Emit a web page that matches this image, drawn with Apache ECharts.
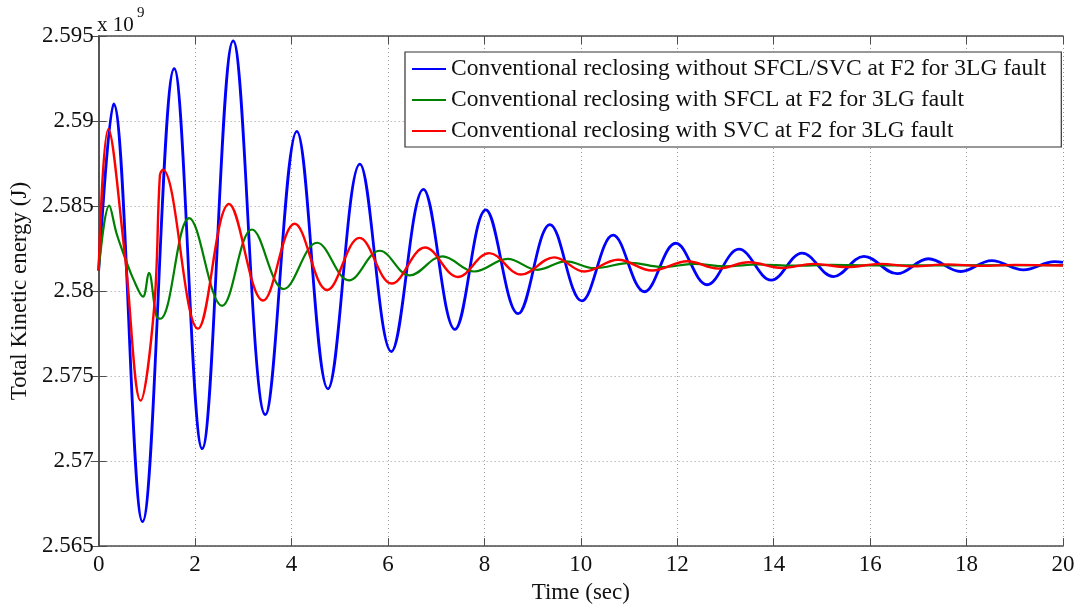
<!DOCTYPE html>
<html>
<head>
<meta charset="utf-8">
<script src="https://cdn.jsdelivr.net/npm/echarts@6/dist/echarts.min.js"></script>
<style>
html,body{margin:0;padding:0;background:#fff;overflow:hidden;}
#chart{width:1081px;height:609px;}
</style>
</head>
<body>
<div id="chart"></div>
<script>
// ---- data (values in units of 1e9 J) ----
const seriesNames = [
  'Conventional reclosing without SFCL/SVC at F2 for 3LG fault',
  'Conventional reclosing with SFCL at F2 for 3LG fault',
  'Conventional reclosing with SVC at F2 for 3LG fault'
];
const xTicks = [0, 2, 4, 6, 8, 10, 12, 14, 16, 18, 20];
const yTicks = [2.565, 2.57, 2.575, 2.58, 2.585, 2.59, 2.595];

const tBlue = [0, 0.31, 0.91, 1.567, 2.147, 2.79, 3.457, 4.11, 4.755, 5.417, 6.07, 6.735, 7.39, 8.03, 8.70, 9.36, 10.02, 10.67, 11.32, 11.97, 12.62, 13.28, 13.95, 14.59, 15.24, 15.87, 16.56, 17.21, 17.88, 18.52, 19.18, 19.83, 20];
const vBlue = [2.5812, 2.5910, 2.56644, 2.59308, 2.57073, 2.59471, 2.57273, 2.58939, 2.57425, 2.58746, 2.57644, 2.58598, 2.57775, 2.58477, 2.57867, 2.58391, 2.57942, 2.58329, 2.57996, 2.58281, 2.58037, 2.58246, 2.58064, 2.58223, 2.58085, 2.58204, 2.58102, 2.58190, 2.58115, 2.58179, 2.58125, 2.58173, 2.58168];

const tGreen = [0, 0.22, 0.37, 0.58, 0.72, 0.92, 1.04, 1.2, 1.28, 1.877, 2.56, 3.18, 3.84, 4.53, 5.19, 5.83, 6.45, 7.13, 7.79, 8.48, 9.10, 9.69, 10.28, 11.03, 11.69, 12.35, 13.0, 13.7, 14.4, 15.2, 16.0, 20];
const vGreen = [2.5812, 2.58502, 2.5834, 2.5817, 2.5807, 2.57967, 2.58107, 2.5785, 2.57837, 2.58429, 2.57913, 2.58362, 2.58012, 2.58284, 2.58063, 2.58237, 2.58092, 2.58204, 2.58115, 2.58189, 2.58125, 2.58175, 2.58135, 2.58166, 2.58141, 2.58160, 2.58146, 2.58156, 2.58149, 2.58154, 2.58151, 2.58152];

const tRed = [0, 0.2, 0.545, 0.87, 1.15, 1.27, 1.33, 2.06, 2.705, 3.41, 4.065, 4.74, 5.41, 6.08, 6.77, 7.45, 8.10, 8.76, 9.45, 10.07, 10.77, 11.48, 12.21, 12.85, 13.48, 14.17, 14.83, 15.52, 16.21, 16.9, 17.6, 18.3, 19.0, 20];
const vRed = [2.5812, 2.58952, 2.5821, 2.57356, 2.5790, 2.5868, 2.58714, 2.57779, 2.58512, 2.57944, 2.58396, 2.58006, 2.58313, 2.58044, 2.58256, 2.58083, 2.58223, 2.58097, 2.58198, 2.58115, 2.58184, 2.58121, 2.58175, 2.58132, 2.58169, 2.58136, 2.58160, 2.58141, 2.58160, 2.58145, 2.58157, 2.58148, 2.58154, 2.58150];

const pairs = (ts, vs) => ts.map((t, i) => [t, vs[i]]);
const FONT = '"Liberation Serif", "Times New Roman", serif';
const AX = '#4d4d4d';

const dom = document.getElementById('chart');
const chart = echarts.init(dom, null, {renderer: 'canvas', width: 1081, height: 609});

const baseX = {
  type: 'value', min: xTicks[0], max: xTicks[xTicks.length - 1], interval: 2
};
const baseY = {
  type: 'value', min: yTicks[0], max: yTicks[yTicks.length - 1], interval: 0.005
};

chart.setOption({
  animation: false,
  backgroundColor: '#fff',
  grid: {left: 97, right: 18, top: 36, bottom: 53, containLabel: false},
  xAxis: [
    Object.assign({}, baseX, {
      position: 'bottom',
      name: 'Time (sec)', nameLocation: 'middle', nameGap: 24,
      nameTextStyle: {fontFamily: FONT, fontSize: 23, color: '#111'},
      axisLine: {show: true, lineStyle: {color: AX, width: 1.5}},
      axisTick: {show: true, inside: true, length: 8, lineStyle: {color: AX}},
      axisLabel: {fontFamily: FONT, fontSize: 23, color: '#111', margin: 7},
      splitLine: {show: true, lineStyle: {color: '#9a9a9a', type: [1, 3], width: 1}}
    }),
    Object.assign({}, baseX, {
      position: 'top',
      axisLine: {show: true, lineStyle: {color: AX, width: 1.5}},
      axisTick: {show: true, inside: true, length: 8, lineStyle: {color: AX}},
      axisLabel: {show: false},
      splitLine: {show: false}
    })
  ],
  yAxis: [
    Object.assign({}, baseY, {
      position: 'left',
      name: 'Total Kinetic energy (J)', nameLocation: 'middle', nameGap: 67,
      nameTextStyle: {fontFamily: FONT, fontSize: 23, color: '#111'},
      axisLine: {show: true, lineStyle: {color: AX, width: 1.5}},
      axisTick: {show: true, inside: true, length: 8, lineStyle: {color: AX}},
      axisLabel: {fontFamily: FONT, fontSize: 23, color: '#111', margin: 5,
        formatter: v => String(+(+v).toFixed(3))},
      splitLine: {show: true, lineStyle: {color: '#9a9a9a', type: [1, 3], width: 1}}
    }),
    Object.assign({}, baseY, {
      position: 'right',
      axisLine: {show: true, lineStyle: {color: AX, width: 1.5}},
      axisTick: {show: true, inside: true, length: 8, lineStyle: {color: AX}},
      axisLabel: {show: false},
      splitLine: {show: false}
    })
  ],
  legend: {
    orient: 'vertical',
    left: 405, top: 52,
    padding: [5, 15, 4, 7],
    icon: 'rect',
    itemWidth: 34, itemHeight: 2.2, itemGap: 7,
    backgroundColor: '#fff',
    borderColor: '#333', borderWidth: 1.2, borderRadius: 0,
    textStyle: {fontFamily: FONT, fontSize: 23.5, color: '#111', lineHeight: 23},
    data: seriesNames
  },
  graphic: [
    {type: 'text', left: 97, top: 15, style: {text: 'x 10', font: '21px ' + FONT, fill: '#111'}},
    {type: 'text', left: 137, top: 6, style: {text: '9', font: '15px ' + FONT, fill: '#111'}}
  ],
  series: [
    {name: seriesNames[0], type: 'line', data: pairs(tBlue, vBlue), smooth: 0.38,
     symbol: 'none', lineStyle: {color: '#0000ff', width: 2.8}, itemStyle: {color: '#0000ff'}, z: 2},
    {name: seriesNames[1], type: 'line', data: pairs(tGreen, vGreen), smooth: 0.38,
     symbol: 'none', lineStyle: {color: '#008000', width: 2.2}, itemStyle: {color: '#008000'}, z: 3},
    {name: seriesNames[2], type: 'line', data: pairs(tRed, vRed), smooth: 0.38,
     symbol: 'none', lineStyle: {color: '#ff0000', width: 2.4}, itemStyle: {color: '#ff0000'}, z: 4}
  ]
});
</script>
</body>
</html>
